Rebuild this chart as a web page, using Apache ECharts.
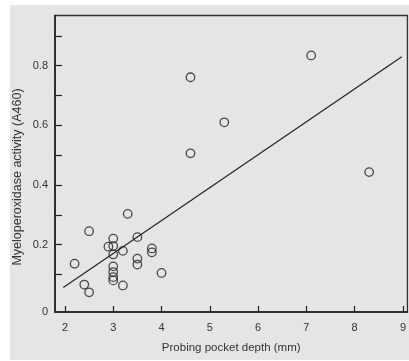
<!DOCTYPE html>
<html>
<head>
<meta charset="utf-8">
<script src="https://cdn.jsdelivr.net/npm/echarts@6/dist/echarts.min.js"></script>
<style>
html,body{margin:0;padding:0;background:#ffffff;}
#chart{width:409px;height:361px;}
</style>
</head>
<body>
<div id="chart"></div>
<script>
// Data
var depthX = [2.2, 2.4, 2.5, 2.5, 2.9, 3.0, 3.0, 3.0, 3.0, 3.0, 3.0, 3.0, 3.2, 3.2, 3.3, 3.5, 3.5, 3.5, 3.8, 3.8, 4.0, 4.6, 4.6, 5.3, 7.1, 8.3];
var mpoY = [0.136, 0.066, 0.04, 0.245, 0.193, 0.22, 0.195, 0.167, 0.127, 0.108, 0.091, 0.08, 0.179, 0.063, 0.303, 0.225, 0.153, 0.133, 0.187, 0.174, 0.105, 0.761, 0.506, 0.61, 0.834, 0.443];
var fitLineX = [1.966, 8.976];
var fitLineY = [0.056, 0.830];
var xTickValues = [2, 3, 4, 5, 6, 7, 8, 9];
var yTickValues = [0.1, 0.2, 0.3, 0.4, 0.5, 0.6, 0.7, 0.8, 0.9];
var yLabelValues = [0, 0.2, 0.4, 0.6, 0.8];
var xTitle = 'Probing pocket depth (mm)';
var yTitle = 'Myeloperoxidase activity (A460)';

var yMin = -0.026, yMax = 0.968;
var points = depthX.map(function (x, i) { return [x, mpoY[i]]; });
var fitLine = fitLineX.map(function (x, i) { return [x, fitLineY[i]]; });
// "0" label sits at the axis corner in the reference
var yLabelPos = yLabelValues.map(function (v) { return v === 0 ? yMin : v; });

var chart = echarts.init(document.getElementById('chart'), null, {renderer: 'canvas'});
var font = 'Liberation Sans, Arial, sans-serif';
chart.setOption({
  animation: false,
  backgroundColor: '#ffffff',
  graphic: [{
    type: 'rect', z: -10, silent: true,
    shape: {x: 10, y: 5, width: 399, height: 355},
    style: {fill: '#e5e5e5'}
  }, {
    type: 'text', silent: true, x: 18, y: 177, rotation: Math.PI / 2,
    style: {text: yTitle, fill: '#333', font: '12.5px ' + font, align: 'center', verticalAlign: 'middle'}
  }],
  grid: {
    left: 55, top: 15.5, right: 0, bottom: 49,
    show: true, borderColor: '#333', borderWidth: 1.3, backgroundColor: 'transparent'
  },
  xAxis: {
    type: 'value', min: 1.794, max: 9.093,
    name: xTitle, nameLocation: 'middle', nameGap: 30,
    nameTextStyle: {fontFamily: font, fontSize: 11.5, color: '#333'},
    axisLine: {onZero: false, lineStyle: {color: '#222', width: 1.6}},
    axisTick: {inside: true, length: 6, customValues: xTickValues, lineStyle: {color: '#222', width: 1.2}},
    axisLabel: {customValues: xTickValues, margin: 10, fontFamily: font, fontSize: 11, color: '#333',
      formatter: function (v) { return String(Math.round(v)); }},
    splitLine: {show: false}
  },
  yAxis: {
    type: 'value', min: yMin, max: yMax,
    axisLine: {onZero: false, lineStyle: {color: '#222', width: 1.6}},
    axisTick: {inside: true, length: 7, customValues: yTickValues, lineStyle: {color: '#222', width: 1.2}},
    axisLabel: {customValues: yLabelPos, margin: 7, fontFamily: font, fontSize: 11, color: '#333',
      formatter: function (v) { return v < 0.01 ? '0' : (Math.round(v * 10) / 10).toFixed(1); }},
    splitLine: {show: false}
  },
  series: [{
    type: 'line', data: fitLine, symbol: 'none', silent: true,
    lineStyle: {color: '#222', width: 1.2}
  }, {
    type: 'scatter', data: points, symbol: 'circle', symbolSize: 8.5,
    itemStyle: {color: 'rgba(0,0,0,0)', borderColor: '#222', borderWidth: 1.3}
  }]
});
</script>
</body>
</html>
